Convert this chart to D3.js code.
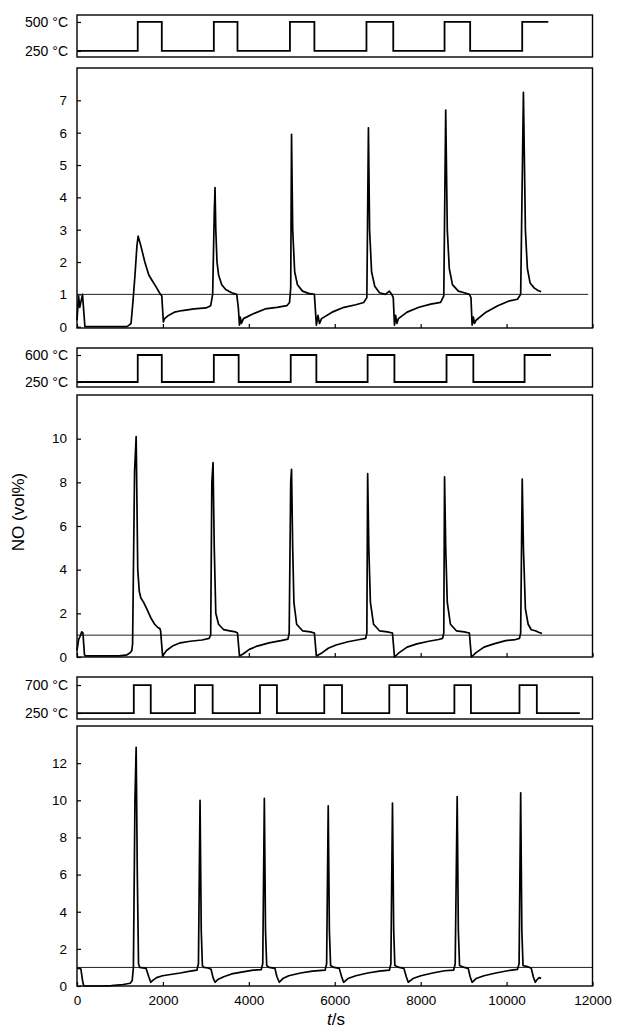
<!DOCTYPE html>
<html><head><meta charset="utf-8">
<script src="https://cdn.jsdelivr.net/npm/d3@7"></script>
<style>
html,body{margin:0;padding:0;background:#fff;}
svg{display:block;}
text{font-family:"Liberation Sans",Arial,Helvetica,sans-serif;fill:#000;}
</style></head>
<body>
<script>
// ---------------- DATA ----------------
const xTicks = [0, 2000, 4000, 6000, 8000, 10000, 12000];
const yTicks1 = [0, 1, 2, 3, 4, 5, 6, 7];
const yTicks2 = [0, 2, 4, 6, 8, 10];
const yTicks3 = [0, 2, 4, 6, 8, 10, 12];
const refLevel = 1.0;

// temperature programmes: switch times (s) and levels (°C)
const tempTimes1 = [0,1414,1974,3185,3736,4957,5526,6738,7362,8556,9152,10364];
const tempLevels1 = [250,500,250,500,250,500,250,500,250,500,250,500];
const tempEnd1 = 10970;
const tempTimes2 = [0,1414,1974,3185,3763,4975,5572,6765,7389,8602,9226,10419];
const tempLevels2 = [250,600,250,600,250,600,250,600,250,600,250,600];
const tempEnd2 = 11034;
const tempTimes3 = [0,1322,1717,2745,3158,4259,4654,5756,6169,7270,7683,8785,9170,10300,10704];
const tempLevels3 = [250,700,250,700,250,700,250,700,250,700,250,700,250,700,250];
const tempEnd3 = 11705;
const tempLabels1 = ["250 °C", "500 °C"];
const tempLabels2 = ["250 °C", "600 °C"];
const tempLabels3 = ["250 °C", "700 °C"];

// NO concentration traces [t (s), NO (vol%)]
const no1 = [[0,0.2],[37,0.95],[64,0.6],[128,1.0],[184,0.0],[1166,0.0],[1212,0.05],[1258,0.1],[1304,0.8],[1350,1.6],[1395,2.5],[1423,2.8],[1487,2.5],[1579,2.0],[1671,1.6],[1763,1.4],[1855,1.2],[1919,1.05],[1974,0.95],[2010,0.15],[2038,0.25],[2130,0.35],[2267,0.45],[2451,0.5],[2727,0.55],[3002,0.58],[3112,0.65],[3158,1.0],[3195,3.5],[3213,4.3],[3231,3.0],[3259,2.0],[3296,1.6],[3369,1.3],[3461,1.15],[3599,1.05],[3718,1.0],[3755,0.6],[3782,0.05],[3800,0.3],[3828,0.1],[3874,0.25],[4103,0.4],[4379,0.55],[4654,0.6],[4884,0.65],[4948,0.75],[4975,1.2],[4994,5.95],[5021,3.0],[5067,1.7],[5131,1.3],[5250,1.1],[5388,1.03],[5526,1.0],[5572,0.05],[5609,0.35],[5646,0.1],[5692,0.25],[5939,0.45],[6215,0.6],[6490,0.68],[6674,0.75],[6747,0.9],[6784,6.15],[6811,3.0],[6857,1.7],[6931,1.25],[7041,1.05],[7179,1.0],[7271,1.1],[7326,1.0],[7362,0.9],[7390,0.05],[7417,0.35],[7445,0.1],[7482,0.25],[7684,0.45],[7959,0.6],[8234,0.7],[8464,0.75],[8538,0.95],[8583,6.7],[8620,3.0],[8666,1.8],[8740,1.3],[8877,1.1],[9015,1.05],[9134,1.0],[9171,0.9],[9198,0.05],[9226,0.3],[9253,0.1],[9290,0.2],[9520,0.45],[9795,0.65],[10070,0.8],[10254,0.85],[10328,1.0],[10392,7.25],[10438,3.0],[10484,1.8],[10548,1.35],[10640,1.2],[10732,1.12],[10805,1.08]];
const no2 = [[0,0.3],[37,0.8],[73,0.95],[110,1.15],[138,1.1],[174,0.1],[202,0.05],[982,0.05],[1166,0.1],[1239,0.2],[1276,0.3],[1294,0.6],[1340,8.5],[1377,10.1],[1414,4.0],[1450,3.0],[1487,2.7],[1551,2.5],[1625,2.2],[1717,1.8],[1808,1.5],[1882,1.35],[1928,1.3],[1946,1.2],[1992,0.05],[2084,0.3],[2222,0.5],[2405,0.65],[2635,0.72],[2910,0.78],[3075,0.85],[3112,1.0],[3139,8.0],[3167,8.9],[3195,5.0],[3231,2.0],[3296,1.5],[3415,1.25],[3553,1.2],[3691,1.15],[3736,1.1],[3782,0.05],[3874,0.15],[4012,0.35],[4195,0.5],[4471,0.65],[4746,0.75],[4911,0.82],[4939,1.1],[4975,8.0],[4994,8.6],[5021,5.0],[5049,2.5],[5113,1.5],[5250,1.2],[5434,1.15],[5526,1.1],[5572,0.05],[5710,0.2],[5848,0.4],[6031,0.55],[6307,0.7],[6582,0.8],[6720,0.85],[6747,1.1],[6766,8.4],[6793,5.0],[6830,2.5],[6903,1.5],[7041,1.2],[7225,1.15],[7344,1.1],[7390,0.0],[7500,0.2],[7684,0.45],[7913,0.6],[8189,0.72],[8418,0.8],[8510,0.85],[8538,1.1],[8556,8.25],[8583,5.0],[8620,2.5],[8693,1.5],[8831,1.2],[9015,1.15],[9134,1.1],[9180,0.0],[9290,0.2],[9474,0.45],[9703,0.6],[9979,0.75],[10208,0.8],[10300,0.85],[10328,1.1],[10364,8.15],[10392,5.0],[10438,2.2],[10502,1.5],[10575,1.25],[10667,1.2],[10759,1.12],[10823,1.08]];
const no3 = [[0,0.95],[64,0.95],[92,0.9],[128,0.3],[156,0.0],[615,0.0],[799,0.02],[1074,0.08],[1239,0.15],[1285,0.3],[1313,1.0],[1349,10],[1377,12.85],[1404,6],[1432,1.2],[1460,1.0],[1607,0.95],[1671,0.5],[1717,0.2],[1763,0.3],[1854,0.45],[1992,0.55],[2176,0.62],[2405,0.7],[2635,0.8],[2791,0.85],[2827,1.2],[2864,10.0],[2892,3],[2919,1.1],[2956,1.0],[3048,0.97],[3121,0.9],[3167,0.45],[3213,0.2],[3277,0.35],[3415,0.5],[3599,0.65],[3828,0.75],[4103,0.85],[4287,0.88],[4324,1.2],[4361,10.1],[4388,3],[4416,1.1],[4471,1.0],[4608,0.95],[4654,0.5],[4709,0.2],[4792,0.4],[4930,0.55],[5205,0.7],[5480,0.8],[5774,0.85],[5811,1.2],[5848,9.7],[5875,3],[5903,1.1],[5985,1.0],[6105,0.95],[6160,0.5],[6206,0.2],[6307,0.4],[6490,0.55],[6766,0.7],[7041,0.8],[7271,0.85],[7307,1.2],[7344,9.85],[7372,3],[7399,1.1],[7500,1.0],[7610,0.95],[7665,0.5],[7711,0.2],[7821,0.4],[8005,0.55],[8280,0.7],[8556,0.82],[8767,0.85],[8804,1.2],[8850,10.2],[8877,3],[8905,1.1],[9015,1.0],[9107,0.95],[9152,0.5],[9198,0.2],[9290,0.4],[9474,0.55],[9749,0.7],[10024,0.82],[10254,0.9],[10291,1.2],[10328,10.4],[10355,3],[10383,1.1],[10484,1.05],[10575,0.95],[10622,0.5],[10667,0.2],[10713,0.35],[10759,0.45],[10805,0.4]];
const refEnds = [11900, 12000, 12000];

// ---------------- LAYOUT ----------------
const W = 619, H = 1032;
const X0 = 77, X1 = 592.5;
const svg = d3.select("body").append("svg").attr("width", W).attr("height", H);
svg.append("rect").attr("width", W).attr("height", H).attr("fill", "#fff");

const x = d3.scaleLinear().domain([0, 12000]).range([X0, X1]);

const tempPanels = [
  {top: 15, bottom: 57, dom: [198, 560], times: tempTimes1, levels: tempLevels1, end: tempEnd1, labels: tempLabels1},
  {top: 348, bottom: 387, dom: [185, 691], times: tempTimes2, levels: tempLevels2, end: tempEnd2, labels: tempLabels2},
  {top: 677, bottom: 719, dom: [154, 829], times: tempTimes3, levels: tempLevels3, end: tempEnd3, labels: tempLabels3}
];
const mainPanels = [
  {top: 68, bottom: 328, dom: [-0.04, 8], ticks: yTicks1, data: no1, refEnd: refEnds[0], xlab: false},
  {top: 395, bottom: 657, dom: [0, 12], ticks: yTicks2, data: no2, refEnd: refEnds[1], xlab: false},
  {top: 726, bottom: 986, dom: [0, 14], ticks: yTicks3, data: no3, refEnd: refEnds[2], xlab: true}
];

const FS = 13.5;

tempPanels.forEach(p => {
  const y = d3.scaleLinear().domain(p.dom).range([p.bottom, p.top]);
  const lv = [d3.min(p.levels), d3.max(p.levels)];
  const ax = svg.append("g").attr("transform", `translate(${X0},0)`)
    .call(d3.axisLeft(y).tickValues(lv).tickSize(-4).tickPadding(9)
      .tickFormat((d, i) => p.labels[i]));
  ax.select(".domain").remove();
  ax.selectAll("line").attr("stroke", "#000").attr("stroke-width", 1.2);
  ax.selectAll("text").style("font-size", "14px").attr("fill", "#000");
  const pts = p.times.map((t, i) => [t, p.levels[i]]);
  pts.push([p.end, p.levels[p.levels.length - 1]]);
  svg.append("path").datum(pts)
    .attr("d", d3.line().x(d => x(d[0])).y(d => y(d[1])).curve(d3.curveStepAfter))
    .attr("fill", "none").attr("stroke", "#000").attr("stroke-width", 1.8);
  svg.append("rect").attr("x", X0).attr("y", p.top).attr("width", X1 - X0).attr("height", p.bottom - p.top)
    .attr("fill", "none").attr("stroke", "#000").attr("stroke-width", 1.4);
});

mainPanels.forEach(p => {
  const y = d3.scaleLinear().domain(p.dom).range([p.bottom, p.top]);
  const ay = svg.append("g").attr("transform", `translate(${X0},0)`)
    .call(d3.axisLeft(y).tickValues(p.ticks).tickSize(-4).tickPadding(10).tickFormat(d3.format("d")));
  ay.select(".domain").remove();
  ay.selectAll("line").attr("stroke", "#000").attr("stroke-width", 1.2);
  ay.selectAll("text").style("font-size", FS + "px").attr("fill", "#000");

  const axx = svg.append("g").attr("transform", `translate(0,${p.bottom})`)
    .call(d3.axisBottom(x).tickValues(xTicks).tickSize(-4).tickPadding(9)
      .tickFormat(p.xlab ? d3.format("d") : () => ""));
  axx.select(".domain").remove();
  axx.selectAll("line").attr("stroke", "#000").attr("stroke-width", 1.2);
  axx.selectAll("text").style("font-size", FS + "px").attr("fill", "#000");

  // 1 vol% reference line
  svg.append("path").datum([[0, refLevel], [p.refEnd, refLevel]])
    .attr("d", d3.line().x(d => x(d[0])).y(d => y(d[1])))
    .attr("stroke", "#222").attr("stroke-width", 1).attr("fill", "none");

  svg.append("path").datum(p.data)
    .attr("d", d3.line().x(d => x(d[0])).y(d => y(d[1])))
    .attr("fill", "none").attr("stroke", "#000").attr("stroke-width", 1.7)
    .attr("stroke-linejoin", "round");

  svg.append("rect").attr("x", X0).attr("y", p.top).attr("width", X1 - X0).attr("height", p.bottom - p.top)
    .attr("fill", "none").attr("stroke", "#000").attr("stroke-width", 1.4);
});

// axis titles
svg.append("text").attr("transform", "translate(24,512) rotate(-90)")
  .attr("text-anchor", "middle").style("font-size", "17px").text("NO (vol%)");
const xt = svg.append("text").attr("x", 336).attr("y", 1025).attr("text-anchor", "middle").style("font-size", "17px");
xt.append("tspan").style("font-style", "italic").text("t");
xt.append("tspan").text("/s");
</script>
</body></html>
